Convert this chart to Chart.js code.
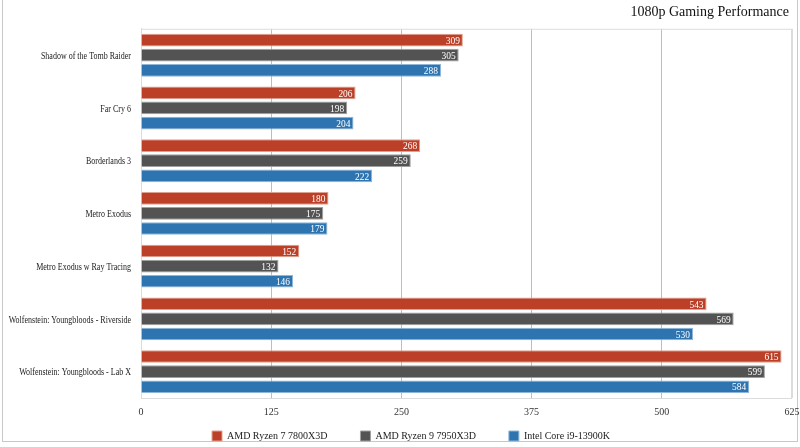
<!DOCTYPE html>
<html>
<head>
<meta charset="utf-8">
<script src="https://cdn.jsdelivr.net/npm/chart.js@4/dist/chart.umd.min.js"></script>
<style>
  html, body { margin: 0; padding: 0; background: #fff; }
  #frame {
    position: absolute; left: 2px; top: 0; width: 796px; height: 442px;
    border: 1px solid #c8c8c8; border-top: none; box-sizing: border-box;
  }
  #wrap { position: absolute; left: 0; top: 0; width: 800px; height: 447px; }
</style>
</head>
<body>
<div id="frame"></div>
<div id="wrap"><canvas id="perfChart" width="800" height="447"></canvas></div>
<script>
const games = [
  "Shadow of the Tomb Raider",
  "Far Cry 6",
  "Borderlands 3",
  "Metro Exodus",
  "Metro Exodus w Ray Tracing",
  "Wolfenstein: Youngbloods - Riverside",
  "Wolfenstein: Youngbloods - Lab X"
];
const ryzen7800 = [309, 206, 268, 180, 152, 543, 615];
const ryzen7950 = [305, 198, 259, 175, 132, 569, 599];
const intel13900 = [288, 204, 222, 179, 146, 530, 584];
const xTicks = [0, 125, 250, 375, 500, 625];
const chartTitle = "1080p Gaming Performance";

const serif = "'Liberation Serif', 'DejaVu Serif', serif";

// white value labels drawn inside the end of each bar
const barLabels = {
  id: "barLabels",
  afterDatasetsDraw(chart) {
    const ctx = chart.ctx;
    ctx.save();
    ctx.font = "10.5px " + serif;
    ctx.fillStyle = "#fff";
    ctx.textAlign = "right";
    ctx.textBaseline = "middle";
    chart.data.datasets.forEach((ds, i) => {
      chart.getDatasetMeta(i).data.forEach((bar, j) => {
        ctx.save();
        ctx.translate(bar.x - 3, bar.y + 1);
        ctx.scale(0.9, 1);
        ctx.fillText(ds.data[j], 0, 0);
        ctx.restore();
      });
    });
    ctx.restore();
  }
};

// category names (condensed like the original face) and the title
const textBits = {
  id: "textBits",
  afterDraw(chart) {
    const ctx = chart.ctx, y = chart.scales.y, area = chart.chartArea;
    ctx.save();
    ctx.font = "10px " + serif;
    ctx.fillStyle = "#222";
    ctx.textAlign = "right";
    ctx.textBaseline = "middle";
    games.forEach((name, i) => {
      ctx.save();
      ctx.translate(area.left - 10, y.getPixelForValue(i) + 1);
      ctx.scale(0.8, 1);
      ctx.fillText(name, 0, 0);
      ctx.restore();
    });
    const tb = chart.titleBlock;
    ctx.font = "14px " + serif;
    ctx.fillStyle = "#111";
    ctx.fillText(chartTitle, area.right - 3, 12);
    ctx.restore();
  }
};

// light frame around the plot area
const plotFrame = {
  id: "plotFrame",
  beforeDatasetsDraw(chart) {
    const a = chart.chartArea, ctx = chart.ctx;
    ctx.save();
    ctx.strokeStyle = "#dcdcdc";
    ctx.lineWidth = 1;
    ctx.strokeRect(a.left + 0.5, a.top + 0.5, a.right - a.left - 1, a.bottom - a.top);
    ctx.restore();
  }
};

// keep the wide item spacing of the legend but not its tall box
const legendSqueeze = {
  id: "legendSqueeze",
  beforeLayout(chart) {
    const lg = chart.legend;
    if (lg && !lg._squeezed) {
      const fit = lg.fit.bind(lg);
      lg.fit = function () { fit(); this.height = 21; };
      lg._squeezed = true;
    }
  },
  afterLayout(chart) {
    const lg = chart.legend;
    if (lg) {
      lg.top = lg.bottom - 49;
      lg.left += 12;
      lg.right += 12;
    }
  }
};

function makeSet(label, data, color, edge) {
  return {
    label: label,
    data: data,
    backgroundColor: color,
    borderColor: edge,
    borderWidth: 1,
    categoryPercentage: 0.86,
    barPercentage: 0.84
  };
}

new Chart(document.getElementById("perfChart"), {
  type: "bar",
  data: {
    labels: games,
    datasets: [
      makeSet("AMD Ryzen 7 7800X3D", ryzen7800, "#bc4028", "#e0a090"),
      makeSet("AMD Ryzen 9 7950X3D", ryzen7950, "#535353", "#a0a0a0"),
      makeSet("Intel Core i9-13900K", intel13900, "#2e74b0", "#8fb6d8")
    ]
  },
  options: {
    indexAxis: "y",
    responsive: false,
    animation: false,
    layout: { padding: { top: 0, right: 2, left: 0, bottom: 0 } },
    scales: {
      x: {
        min: 0,
        max: 625,
        afterBuildTicks(axis) { axis.ticks = xTicks.map(v => ({ value: v })); },
        afterFit(axis) { axis.paddingRight = 8; },
        grid: {
          color: ctx => (ctx.tick && (ctx.tick.value === 0 || ctx.tick.value === 625)) ? "#dcdcdc" : "#bdbdbd",
          drawTicks: false
        },
        border: { display: false },
        ticks: { color: "#333", font: { family: serif, size: 10 }, padding: 8, maxRotation: 0 }
      },
      y: {
        afterFit(axis) { axis.width = 141; },
        grid: { display: false },
        border: { color: "#dcdcdc" },
        ticks: { color: "rgba(0,0,0,0)", font: { family: serif, size: 10 } }
      }
    },
    plugins: {
      title: {
        display: true,
        text: chartTitle,
        align: "end",
        color: "rgba(0,0,0,0)",
        font: { family: serif, size: 14, weight: "normal" },
        padding: { top: 4, bottom: 8 }
      },
      legend: {
        position: "bottom",
        labels: {
          color: "#222",
          font: { family: serif, size: 10 },
          boxWidth: 10,
          boxHeight: 10,
          padding: 33
        }
      },
      tooltip: { enabled: false }
    }
  },
  plugins: [legendSqueeze, plotFrame, barLabels, textBits]
});
</script>
</body>
</html>
